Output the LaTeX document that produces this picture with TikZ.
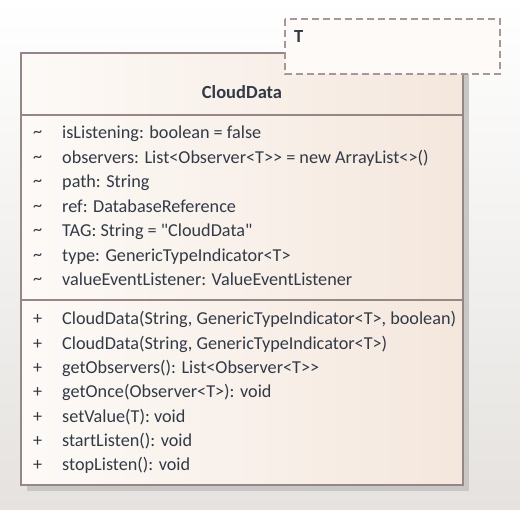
\documentclass[tikz,border=0pt]{standalone}
\usepackage{fontspec}
\setmainfont{Carlito}[Ligatures=TeXOff]
\definecolor{umlline}{RGB}{150,134,134}
\definecolor{umltext}{RGB}{50,58,70}
\definecolor{umlleft}{RGB}{253,250,247}
\definecolor{umlright}{RGB}{244,231,221}
\definecolor{umlshadow}{RGB}{200,199,198}
\definecolor{bgbottom}{RGB}{229,226,223}

\begin{document}
\begin{tikzpicture}[x=1pt,y=-1pt,
    member/.style={anchor=base west,inner sep=0pt,text=umltext,font=\fontsize{18.2}{20}\selectfont},
    title/.style={anchor=base,inner sep=0pt,text=umltext,font=\fontsize{18.5}{20}\selectfont\bfseries}]
    \useasboundingbox (0,0) rectangle (520,510);
    \shade[top color=white,bottom color=bgbottom] (0,0) rectangle (520,510);
    \fill[umlshadow] (27,59) rectangle (469,491);
    \shade[left color=umlleft,right color=umlright,draw=umlline,line width=1.2pt] (21,53) rectangle (463,485);
    \draw[umlline,line width=1.2pt] (21,115) -- (463,115);
    \draw[umlline,line width=1.2pt] (21,300) -- (463,300);
    \filldraw[fill=umlleft,draw=umlline!85,line width=1.2pt,dash pattern=on 7pt off 4pt] (285,19) rectangle (500,74);
    \node[title,anchor=base west] (param) at (294,43) {T};
    \node[title] (name) at (242,99) {CloudData};
    \node[member] (v1) at (33,138) {\textasciitilde};
    \node[member] (v2) at (33,162.5) {\textasciitilde};
    \node[member] (v3) at (33,187) {\textasciitilde};
    \node[member] (v4) at (33,211.5) {\textasciitilde};
    \node[member] (v5) at (33,236) {\textasciitilde};
    \node[member] (v6) at (33,260.5) {\textasciitilde};
    \node[member] (v7) at (33,285) {\textasciitilde};
    \node[member] (attr1) at (62,139) {isListening: boolean = false};
    \node[member] (attr2) at (62,163.5) {observers: List<Observer<T>> = new ArrayList<>()};
    \node[member] (attr3) at (62,188) {path: String};
    \node[member] (attr4) at (62,212.5) {ref: DatabaseReference};
    \node[member] (attr5) at (62,237) {TAG: String = "CloudData"};
    \node[member] (attr6) at (62,261.5) {type: GenericTypeIndicator<T>};
    \node[member] (attr7) at (62,286) {valueEventListener: ValueEventListener};
    \node[member] (p1) at (33,325) {+};
    \node[member] (p2) at (33,349.3) {+};
    \node[member] (p3) at (33,373.6) {+};
    \node[member] (p4) at (33,397.9) {+};
    \node[member] (p5) at (33,422.2) {+};
    \node[member] (p6) at (33,446.5) {+};
    \node[member] (p7) at (33,470.8) {+};
    \node[member] (op1) at (62,325) {CloudData(String, GenericTypeIndicator<T>, boolean)};
    \node[member] (op2) at (62,349.3) {CloudData(String, GenericTypeIndicator<T>)};
    \node[member] (op3) at (62,373.6) {getObservers(): List<Observer<T>>};
    \node[member] (op4) at (62,397.9) {getOnce(Observer<T>): void};
    \node[member] (op5) at (62,422.2) {setValue(T): void};
    \node[member] (op6) at (62,446.5) {startListen(): void};
    \node[member] (op7) at (62,470.8) {stopListen(): void};
  \end{tikzpicture}
\end{document}
